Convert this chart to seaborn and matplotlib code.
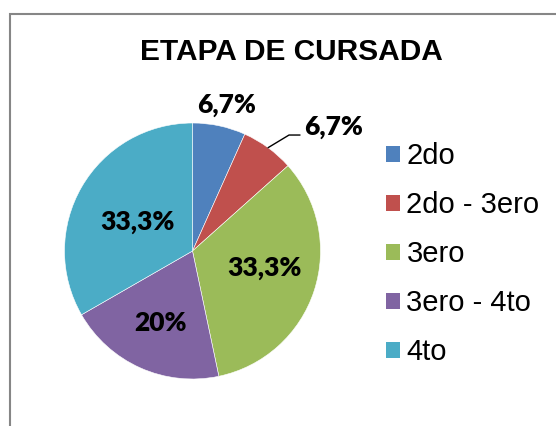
import matplotlib
matplotlib.use("Agg")
import seaborn as sns
from matplotlib import pyplot as plt
from matplotlib.patches import Rectangle
import numpy as np

categories = ["2do", "2do - 3ero", "3ero", "3ero - 4to", "4to"]
percentages = [6.7, 6.7, 33.3, 20.0, 33.3]
colors = ["#4F81BD", "#C0504D", "#9BBB59", "#8064A2", "#4BACC6"]
title = "ETAPA DE CURSADA"

# label centres in pie radius units
label_pos = [(0.27, 1.14), (1.10, 0.97), (0.56, -0.13), (-0.25, -0.56), (-0.43, 0.23)]

sns.set_style("white")
plt.rcParams["font.family"] = ["Liberation Sans", "DejaVu Sans"]
plt.rcParams["text.color"] = "black"

W, H = 556, 426
fig = plt.figure(figsize=(W / 100, H / 100), dpi=100)

# chart border (only left and top visible in the crop)
fig.add_artist(Rectangle((10 / W, -0.1), 1.2, 1.1 - 14 / H, transform=fig.transFigure,
                         fill=False, edgecolor="#868686", linewidth=1.5))

cx, cy, r = 192.5, 251, 128
ax = fig.add_axes([(cx - r) / W, (H - cy - r) / H, 2 * r / W, 2 * r / H])

palette = sns.color_palette(colors)
wedges, _ = ax.pie(percentages, colors=palette, startangle=90, counterclock=False,
                   radius=1, wedgeprops=dict(edgecolor="white", linewidth=0.4))
ax.set_xlim(-1, 1)
ax.set_ylim(-1, 1)
ax.set_aspect("equal")
ax.axis("off")

for i, (v, (x, y)) in enumerate(zip(percentages, label_pos)):
    txt = f"{v:g}".replace(".", ",") + "%"
    ax.text(x, y, txt, ha="center", va="center", fontsize=19, fontweight="heavy",
            family=["Lato", "DejaVu Sans"], color="black", clip_on=False)

# leader line for the second slice
w = wedges[1]
mid = np.deg2rad((w.theta1 + w.theta2) / 2)
ax.plot([np.cos(mid), 0.754, 0.84], [np.sin(mid), 0.906, 0.906],
        color="black", linewidth=1, clip_on=False)

leg = ax.legend(wedges, categories, loc="upper left",
                bbox_to_anchor=(386 / W, 1 - 142 / H), bbox_transform=fig.transFigure,
                frameon=False, fontsize=21, handlelength=0.48, handleheight=0.48,
                handletextpad=0.22, labelspacing=0.72, borderpad=0, borderaxespad=0)
for h in leg.legend_handles:
    h.set_edgecolor("none")

fig.text(291 / W, 1 - 52 / H, title, ha="center", va="center", fontsize=21.5,
         fontweight="bold")

plt.savefig("out.png", dpi=100)
